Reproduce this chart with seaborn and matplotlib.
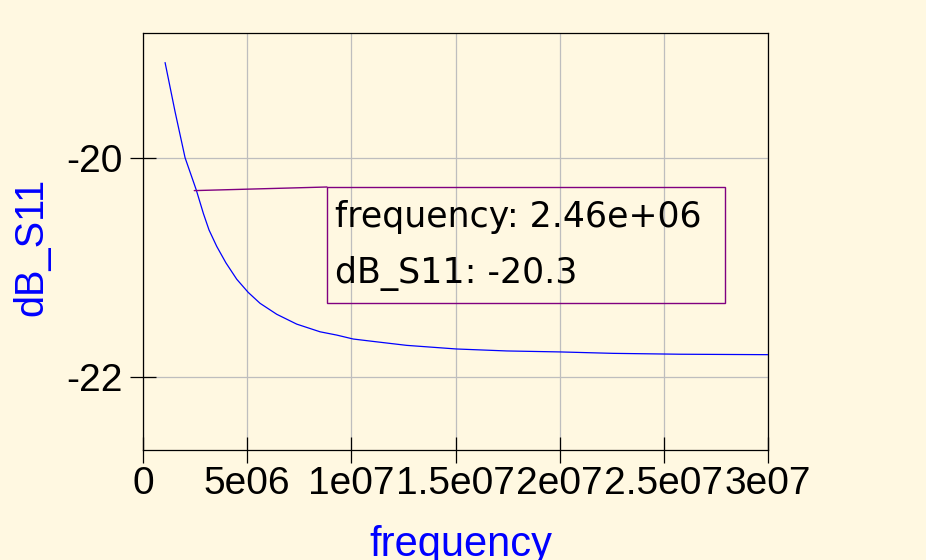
import matplotlib
matplotlib.use('Agg')
import matplotlib.pyplot as plt
import seaborn as sns
from matplotlib.patches import Rectangle

# Curve (frequency in Hz, S11 in dB)
freq = [1.06e6, 1.54e6, 2.02e6, 2.55e6, 2.90e6, 3.17e6, 3.54e6, 3.98e6,
        4.50e6, 5.05e6, 5.62e6, 6.42e6, 7.38e6, 8.50e6, 9.30e6, 1.009e7,
        1.105e7, 1.266e7, 1.504e7, 1.746e7, 2.003e7, 2.257e7, 2.578e7, 3.0e7]
db_s11 = [-19.13, -19.58, -20.00, -20.29, -20.51, -20.66, -20.81, -20.96,
          -21.11, -21.23, -21.33, -21.43, -21.52, -21.59, -21.62, -21.656,
          -21.678, -21.714, -21.747, -21.765, -21.774, -21.787, -21.795, -21.799]

# Marker readout
mark_freq = 2.46e6
mark_db = -20.3

xticks = [0, 5e6, 1e7, 1.5e7, 2e7, 2.5e7, 3e7]
xtick_labels = ['0', '5e06', '1e07', '1.5e07', '2e07', '2.5e07', '3e07']
yticks = [-20, -22]
ytick_labels = ['-20', '-22']

bg = '#FFF8E1'

sns.set_theme(style='white')
plt.rcParams['font.family'] = ['Liberation Sans', 'DejaVu Sans']

fig = plt.figure(figsize=(9.26, 5.6), dpi=100, facecolor=bg)
ax = fig.add_axes([143 / 926, 110 / 560, 625 / 926, 417 / 560])
ax.set_facecolor(bg)

sns.lineplot(x=freq, y=db_s11, ax=ax, color='#0000FF', linewidth=0.9,
             estimator=None, sort=False, zorder=3)

ax.set_xlim(0, 3e7)
ax.set_ylim(-22.67, -18.86)
ax.set_xticks(xticks)
ax.set_xticklabels(xtick_labels)
ax.set_yticks(yticks)
ax.set_yticklabels(ytick_labels)

ax.grid(True, color='#BEBEBE', linewidth=0.9)
for s in ax.spines.values():
    s.set_visible(True)
    s.set_color('black')
    s.set_linewidth(0.9)

ax.tick_params(axis='both', direction='inout', length=18.5, width=0.9,
               color='black', labelsize=28, labelcolor='black')
ax.tick_params(axis='x', pad=2, bottom=True)
ax.tick_params(axis='y', pad=5.5, left=True)

ax.set_xlabel('frequency', fontsize=30, color='#0000FF', va='top')
ax.xaxis.set_label_coords((461 - 143) / 625, (450 - 525) / 417)
ax.set_ylabel('dB_S11', fontsize=28.5, color='#0000FF')
ax.yaxis.set_label_coords((50 - 143) / 625, (450 - 247) / 417)

# readout box
bx0, bx1 = (327 - 143) / 625, (725 - 143) / 625
by0, by1 = (450 - 303) / 417, (450 - 187) / 417
ax.annotate('', xy=(mark_freq, mark_db), xytext=(bx0, by1),
            textcoords='axes fraction',
            arrowprops=dict(arrowstyle='-', color='#800080', lw=1.0,
                            shrinkA=0, shrinkB=0))
ax.add_patch(Rectangle((bx0, by0), bx1 - bx0, by1 - by0, transform=ax.transAxes,
                       fill=False, edgecolor='#800080', linewidth=1.0, zorder=4))
ax.text((335 - 143) / 625, (450 - 227) / 417, f'frequency: {mark_freq:.2e}',
        transform=ax.transAxes, fontsize=25, va='baseline', ha='left',
        color='black', family='DejaVu Sans')
ax.text((335 - 143) / 625, (450 - 283) / 417, f'dB_S11: {mark_db}',
        transform=ax.transAxes, fontsize=25, va='baseline', ha='left',
        color='black', family='DejaVu Sans')

fig.savefig('out.png', dpi=100, facecolor=bg)
